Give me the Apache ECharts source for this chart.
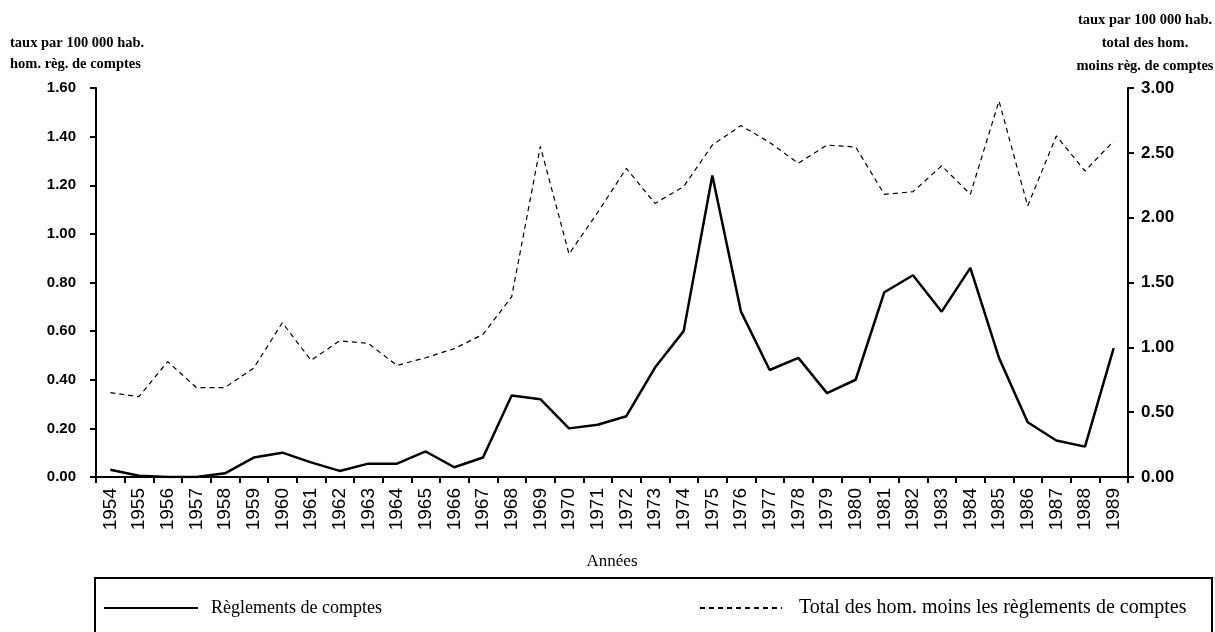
<!DOCTYPE html>
<html><head><meta charset="utf-8">
<script src="https://cdn.jsdelivr.net/npm/echarts@6/dist/echarts.min.js"></script>
<style>html,body{margin:0;padding:0;background:#fff}#c{width:1215px;height:632px}</style>
</head><body><div id="c"></div>
<script>
const years = ['1954','1955','1956','1957','1958','1959','1960','1961','1962','1963','1964','1965','1966','1967','1968','1969','1970','1971','1972','1973','1974','1975','1976','1977','1978','1979','1980','1981','1982','1983','1984','1985','1986','1987','1988','1989'];
const reglements = [0.03,0.005,0.0,0.0,0.015,0.08,0.10,0.06,0.025,0.055,0.055,0.105,0.04,0.08,0.335,0.32,0.20,0.215,0.25,0.45,0.60,1.24,0.68,0.44,0.49,0.345,0.40,0.76,0.83,0.68,0.86,0.49,0.225,0.15,0.125,0.53];
const totalMoins = [0.65,0.62,0.89,0.69,0.69,0.84,1.19,0.90,1.05,1.03,0.86,0.92,0.99,1.10,1.39,2.55,1.72,2.04,2.38,2.11,2.24,2.56,2.71,2.58,2.42,2.56,2.545,2.18,2.20,2.40,2.18,2.90,2.09,2.63,2.36,2.59];
const leftTitle = 'taux par 100 000 hab.\nhom. règ. de comptes';
const rightTitle = 'taux par 100 000 hab.\ntotal des hom.\nmoins règ. de comptes';
const xTitle = 'Années';
const nameA = 'Règlements de comptes';
const nameB = 'Total des hom. moins les règlements de comptes';

const serif = '"Liberation Serif", "DejaVu Serif", serif';
const sans = '"Liberation Sans", Arial, sans-serif';
const chart = echarts.init(document.getElementById('c'), null, {renderer:'canvas'});
chart.setOption({
  animation:false,
  backgroundColor:'#fff',
  grid:{left:96, right:87, top:88, bottom:155},
  xAxis:{type:'category', data:years, boundaryGap:true,
    axisLine:{lineStyle:{color:'#000', width:2}},
    axisTick:{show:true, interval:0, length:6, inside:false, lineStyle:{color:'#000', width:2}},
    axisLabel:{interval:0, rotate:90, color:'#000', fontFamily:sans, fontSize:19, margin:11},
    splitLine:{show:false}},
  yAxis:[
    {type:'value', min:0, max:1.6, interval:0.2, position:'left',
     axisLine:{show:true, lineStyle:{color:'#000', width:2}},
     axisTick:{show:true, length:6, lineStyle:{color:'#000', width:2}},
     axisLabel:{color:'#000', fontFamily:sans, fontWeight:'bold', fontSize:15, margin:20, formatter:v=>v.toFixed(2)},
     splitLine:{show:false}},
    {type:'value', min:0, max:3, interval:0.5, position:'right',
     axisLine:{show:true, lineStyle:{color:'#000', width:2}},
     axisTick:{show:true, length:6, lineStyle:{color:'#000', width:2}},
     axisLabel:{color:'#000', fontFamily:sans, fontWeight:'bold', fontSize:17, margin:13, formatter:v=>v.toFixed(2)},
     splitLine:{show:false}}
  ],
  legend:[
    {left:98, top:594, data:[nameA], itemWidth:94, itemHeight:14,
     itemStyle:{opacity:0},
     textStyle:{fontFamily:serif, fontSize:18, color:'#000', padding:[0,0,0,8]}},
    {left:694, top:593, data:[nameB], itemWidth:82, itemHeight:14,
     itemStyle:{opacity:0},
     textStyle:{fontFamily:serif, fontSize:20, color:'#000', padding:[0,0,0,12]}}
  ],
  graphic:[
    {type:'text', left:10, top:33, style:{text:leftTitle, font:'bold 14.5px '+serif, fill:'#000', lineHeight:21}},
    {type:'text', x:1145, y:9, style:{text:rightTitle, font:'bold 14.5px '+serif, fill:'#000', lineHeight:23, align:'center'}},
    {type:'text', x:612, y:553, style:{text:xTitle, font:'17px '+serif, fill:'#000', align:'center'}},
    {type:'rect', shape:{x:95, y:578, width:1117, height:60}, style:{fill:'none', stroke:'#000', lineWidth:2}}
  ],
  series:[
    {name:nameA, type:'line', yAxisIndex:0, data:reglements, symbol:'none',
     lineStyle:{color:'#000', width:2.5}, itemStyle:{color:'#000'}},
    {name:nameB, type:'line', yAxisIndex:1, data:totalMoins, symbol:'none',
     lineStyle:{color:'#000', width:1.2, type:[5,4]}, itemStyle:{color:'#000'}}
  ]
});
</script></body></html>
